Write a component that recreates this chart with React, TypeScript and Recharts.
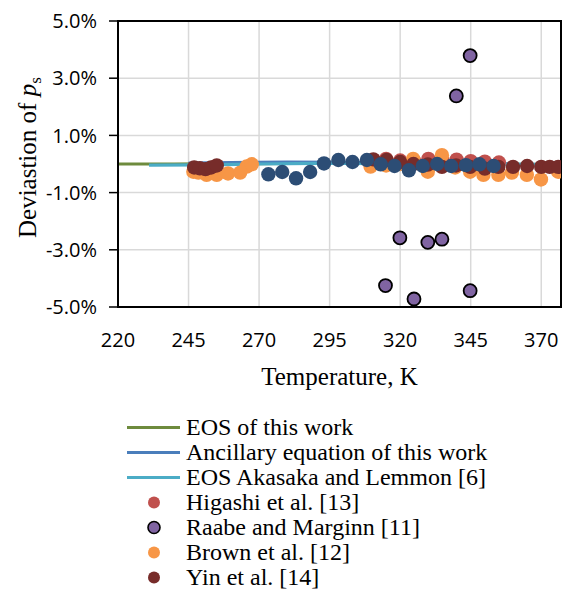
import React from "react";
import {
  ComposedChart,
  Line,
  Scatter,
  XAxis,
  YAxis,
  CartesianGrid,
  Legend,
  ReferenceArea,
} from "recharts";

// temperature in K, deviation in %
const eosThisWork = [
  { T: 220, d: 0.0 },
  { T: 240, d: 0.0 },
  { T: 260, d: 0.01 },
  { T: 280, d: 0.02 },
  { T: 300, d: 0.02 },
  { T: 320, d: 0.01 },
  { T: 340, d: 0.0 },
  { T: 360, d: -0.01 },
  { T: 377, d: -0.02 },
];

const ancillary = [
  { T: 245, d: 0.03 },
  { T: 260, d: 0.05 },
  { T: 280, d: 0.07 },
  { T: 300, d: 0.06 },
  { T: 320, d: 0.04 },
  { T: 340, d: 0.02 },
  { T: 360, d: 0.0 },
];

const akasaka = [
  { T: 231, d: -0.04 },
  { T: 250, d: -0.03 },
  { T: 270, d: 0.0 },
  { T: 290, d: 0.02 },
  { T: 310, d: 0.02 },
  { T: 330, d: 0.01 },
  { T: 350, d: 0.0 },
  { T: 377, d: -0.02 },
];

const higashi = [
  { T: 310, d: 0.1 },
  { T: 315, d: 0.18 },
  { T: 320, d: 0.12 },
  { T: 325, d: 0.1 },
  { T: 330, d: 0.18 },
  { T: 335, d: 0.12 },
  { T: 340, d: 0.15 },
  { T: 345, d: 0.1 },
  { T: 350, d: 0.08 },
  { T: 355, d: 0.05 },
];

const raabe = [
  { T: 344.8, d: 3.79 },
  { T: 339.9, d: 2.38 },
  { T: 319.9, d: -2.58 },
  { T: 329.8, d: -2.74 },
  { T: 334.8, d: -2.63 },
  { T: 314.8, d: -4.25 },
  { T: 324.9, d: -4.72 },
  { T: 344.8, d: -4.43 },
];

const brown = [
  { T: 246.7, d: -0.27 },
  { T: 248.5, d: -0.3 },
  { T: 251.4, d: -0.38 },
  { T: 255, d: -0.38 },
  { T: 259, d: -0.33 },
  { T: 263.3, d: -0.3 },
  { T: 265.6, d: -0.09 },
  { T: 267.4, d: -0.01 },
  { T: 309.5, d: -0.09 },
  { T: 315, d: -0.05 },
  { T: 320, d: 0.0 },
  { T: 324.6, d: 0.18 },
  { T: 329.8, d: -0.27 },
  { T: 334.8, d: 0.31 },
  { T: 339.5, d: -0.12 },
  { T: 344.8, d: -0.27 },
  { T: 349.5, d: -0.38 },
  { T: 354.8, d: -0.38 },
  { T: 359.6, d: -0.3 },
  { T: 364.9, d: -0.38 },
  { T: 369.9, d: -0.54 },
  { T: 376, d: -0.27 },
];

const yin = [
  { T: 247, d: -0.12 },
  { T: 249, d: -0.15 },
  { T: 251, d: -0.18 },
  { T: 253, d: -0.12 },
  { T: 255, d: -0.05 },
  { T: 310.5, d: 0.16 },
  { T: 315.2, d: 0.14 },
  { T: 320, d: 0.07 },
  { T: 324.7, d: 0.0 },
  { T: 329.8, d: -0.02 },
  { T: 334.8, d: -0.1 },
  { T: 339.8, d: -0.05 },
  { T: 344.8, d: -0.1 },
  { T: 350, d: -0.16 },
  { T: 354.8, d: -0.1 },
  { T: 360, d: -0.1 },
  { T: 365, d: -0.07 },
  { T: 370, d: -0.1 },
  { T: 373, d: -0.1 },
  { T: 376, d: -0.1 },
];

// dark blue points, not listed in the legend
const unlisted = [
  { T: 273.3, d: -0.36 },
  { T: 278.2, d: -0.28 },
  { T: 283.1, d: -0.5 },
  { T: 288.1, d: -0.28 },
  { T: 293.0, d: 0.02 },
  { T: 298.1, d: 0.14 },
  { T: 303.1, d: 0.07 },
  { T: 308.2, d: 0.14 },
  { T: 313.1, d: -0.01 },
  { T: 318.0, d: -0.07 },
  { T: 323.1, d: -0.22 },
  { T: 328.0, d: -0.07 },
  { T: 333.1, d: 0.0 },
  { T: 338.1, d: -0.07 },
  { T: 343.3, d: -0.04 },
  { T: 348.1, d: -0.01 },
  { T: 353.1, d: -0.07 },
];

const xTicks = [220, 245, 270, 295, 320, 345, 370];
const yTicks = [-5, -3, -1, 1, 3, 5];

const GREEN = "#6E8B3D";
const BLUE = "#4A7EBB";
const CYAN = "#4BACC6";
const RED = "#C0504D";
const PURPLE = "#8064A2";
const ORANGE = "#F79646";
const MAROON = "#772C2A";
const NAVY = "#2C4D75";

const serif = "'Liberation Serif', 'Times New Roman', serif";
const sans = "'Open Sans', sans-serif";

const dot = (fill: string, stroke?: string) => (props: any) => (
  <circle
    cx={props.cx}
    cy={props.cy}
    r={stroke ? 6.5 : 7.2}
    fill={fill}
    stroke={stroke ?? "none"}
    strokeWidth={1.8}
  />
);

const legendItems = [
  { name: "EOS of this work", kind: "line", color: GREEN },
  { name: "Ancillary equation of this work", kind: "line", color: BLUE },
  { name: "EOS Akasaka and Lemmon [6]", kind: "line", color: CYAN },
  { name: "Higashi et al. [13]", kind: "dot", color: RED },
  { name: "Raabe and Marginn [11]", kind: "dot", color: PURPLE, stroke: "#000" },
  { name: "Brown et al. [12]", kind: "dot", color: ORANGE },
  { name: "Yin et al. [14]", kind: "dot", color: MAROON },
];

function LegendBox() {
  return (
    <div style={{ fontFamily: serif, fontSize: 24, color: "#000" }}>
      {legendItems.map((it) => (
        <div key={it.name} style={{ display: "flex", alignItems: "center", height: 25 }}>
          <svg width={60} height={25}>
            {it.kind === "line" ? (
              <line x1={1} y1={12.5} x2={54} y2={12.5} stroke={it.color} strokeWidth={3.2} />
            ) : (
              <circle
                cx={28}
                cy={12.5}
                r={6}
                fill={it.color}
                stroke={it.stroke ?? "none"}
                strokeWidth={1.6}
              />
            )}
          </svg>
          <span style={{ whiteSpace: "nowrap", lineHeight: "25px" }}>{it.name}</span>
        </div>
      ))}
    </div>
  );
}

export default function App() {
  return (
    <div style={{ position: "absolute", left: 0, top: 0, background: "#fff" }}>
      <ComposedChart
        width={563}
        height={591}
        margin={{ top: 21, right: 2, bottom: 200, left: 18 }}
      >
        <CartesianGrid stroke="#D9D9D9" strokeWidth={1.5} />
        <XAxis
          type="number"
          dataKey="T"
          domain={[220, 377]}
          ticks={xTicks}
          allowDataOverflow
          height={84}
          tickLine={false}
          tickMargin={20}
          axisLine={{ stroke: "#000", strokeWidth: 2 }}
          tick={{ fontFamily: sans, fontSize: 20, fill: "#000" }}
          label={{
            value: "Temperature, K",
            position: "insideBottom",
            offset: 6,
            style: { fontFamily: serif, fontSize: 25, fill: "#000" },
          }}
        />
        <YAxis
          type="number"
          dataKey="d"
          domain={[-5, 5]}
          ticks={yTicks}
          allowDataOverflow
          width={100}
          tickSize={9}
          tickMargin={12}
          tickLine={{ stroke: "#000", strokeWidth: 1.5 }}
          axisLine={{ stroke: "#000", strokeWidth: 2 }}
          tick={{ fontFamily: sans, fontSize: 20, fill: "#000" }}
          tickFormatter={(v: number) => `${v.toFixed(1)}%`}
          label={{
            content: () => (
              <text
                transform="translate(36,238) rotate(-90)"
                textAnchor="start"
                fontFamily={serif}
                fontSize={25}
                fill="#000"
              >
                Deviastion of <tspan fontStyle="italic">p</tspan>
                <tspan fontSize={17} dy={5}>s</tspan>
              </text>
            ),
          }}
        />
        <Line data={eosThisWork} dataKey="d" stroke={GREEN} strokeWidth={3.2} dot={false} isAnimationActive={false} legendType="none" />
        <Line data={ancillary} dataKey="d" stroke={BLUE} strokeWidth={3.2} dot={false} isAnimationActive={false} legendType="none" />
        <Line data={akasaka} dataKey="d" stroke={CYAN} strokeWidth={3.2} dot={false} isAnimationActive={false} legendType="none" />
        <Scatter data={higashi} dataKey="d" shape={dot(RED)} isAnimationActive={false} legendType="none" />
        <Scatter data={brown} dataKey="d" shape={dot(ORANGE)} isAnimationActive={false} legendType="none" />
        <Scatter data={yin} dataKey="d" shape={dot(MAROON)} isAnimationActive={false} legendType="none" />
        <Scatter data={unlisted} dataKey="d" shape={dot(NAVY)} isAnimationActive={false} legendType="none" />
        <Scatter data={raabe} dataKey="d" shape={dot(PURPLE, "#000")} isAnimationActive={false} legendType="none" />
        <ReferenceArea x1={220} x2={377} y1={-5} y2={5} fill="none" stroke="#000" strokeWidth={2} ifOverflow="visible" />
        <Legend
          layout="vertical"
          align="center"
          verticalAlign="middle"
          content={() => <LegendBox />}
          wrapperStyle={{ top: 415, left: 126, width: 437 }}
        />
      </ComposedChart>
    </div>
  );
}
